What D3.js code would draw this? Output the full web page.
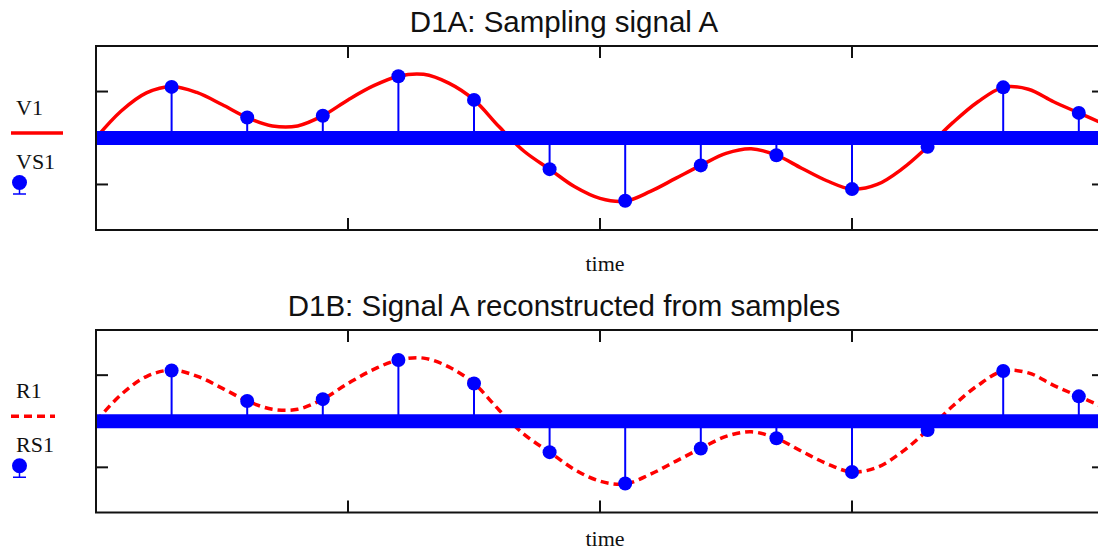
<!DOCTYPE html>
<html>
<head>
<meta charset="utf-8">
<script src="https://cdn.jsdelivr.net/npm/d3@7"></script>
<style>
	body { margin: 0; background: white; }
	svg { display: block; }
</style>
</head>
<body>
<div id="chart"></div>
<script>

// sample instants and sampled values (VS1 / RS1)
let sampleT = [0.3, 0.6, 0.9, 1.2, 1.5, 1.8, 2.1, 2.4, 2.7, 3.0, 3.3, 3.6, 3.9];
let sampleV = [1.10, 0.44, 0.48, 1.33, 0.82, -0.67, -1.35, -0.59, -0.37, -1.10, -0.19, 1.09, 0.54];

// continuous signal V1, every 0.1
let curveT = [0, 0.1, 0.2, 0.3, 0.4, 0.5, 0.6, 0.7, 0.8, 0.9,
			  1.0, 1.1, 1.2, 1.3, 1.4, 1.5, 1.6, 1.7, 1.8, 1.9,
			  2.0, 2.1, 2.2, 2.3, 2.4, 2.5, 2.6, 2.7, 2.8, 2.9,
			  3.0, 3.1, 3.2, 3.3, 3.4, 3.5, 3.6, 3.7, 3.8, 3.9, 4.0];
let curveV1 = [0, 0.58, 0.97, 1.11, 0.98, 0.72, 0.44, 0.26, 0.26, 0.48,
			   0.82, 1.12, 1.33, 1.37, 1.18, 0.82, 0.24, -0.29, -0.67, -1.05,
			   -1.30, -1.36, -1.15, -0.87, -0.59, -0.33, -0.23, -0.37, -0.65, -0.92,
			   -1.10, -1.00, -0.66, -0.19, 0.33, 0.78, 1.09, 1.05, 0.78, 0.54, 0.30];
// reconstruction R1 follows the same trace
let curveR1 = curveV1.slice();

let xTicks = [1, 2, 3];
let yTicks = [-1, 1];

let width = 1098, height = 552;

let panels = [
	{ title: "D1A: Sampling signal A", top: 46, bottom: 230, line: "V1", dots: "VS1", curve: curveV1, dash: null, labelY: 271 },
	{ title: "D1B: Signal A reconstructed from samples", top: 330, bottom: 512.5, line: "R1", dots: "RS1", curve: curveR1, dash: "8,5", labelY: 546 }
];

let svg = d3.select("#chart").append("svg")
			.attr("width", width)
			.attr("height", height);

let x = d3.scaleLinear().domain([0, 4]).range([96, 1104]);

panels.forEach(function(p, i) {
	let y = d3.scaleLinear().domain([-1.98, 1.98]).range([p.bottom, p.top]);
	let g = svg.append("g");

	g.append("clipPath").attr("id", "clip" + i)
		.append("rect")
		.attr("x", x(0)).attr("y", p.top)
		.attr("width", x(4) - x(0)).attr("height", p.bottom - p.top);

	// title
	g.append("text")
		.attr("x", 564).attr("y", p.top - 14)
		.attr("text-anchor", "middle")
		.attr("font-family", "Liberation Sans, Arial, sans-serif")
		.attr("font-size", 29.5)
		.attr("fill", "#111")
		.text(p.title);

	// signal
	let line = d3.line()
				.x((d, k) => x(curveT[k]))
				.y(d => y(d))
				.curve(d3.curveCatmullRom.alpha(0.5));

	g.append("path")
		.datum(p.curve)
		.attr("clip-path", "url(#clip" + i + ")")
		.attr("d", line)
		.attr("fill", "none")
		.attr("stroke", "#ff0000")
		.attr("stroke-width", 3.5)
		.attr("stroke-dasharray", p.dash);

	// thick zero line of the stem trace
	g.append("line")
		.attr("x1", x(0)).attr("x2", x(4))
		.attr("y1", y(0)).attr("y2", y(0))
		.attr("stroke", "#0000ff")
		.attr("stroke-width", 14);

	// stems + dots
	g.selectAll(".stem").data(sampleV).enter().append("line")
		.attr("x1", (d, k) => x(sampleT[k])).attr("x2", (d, k) => x(sampleT[k]))
		.attr("y1", y(0)).attr("y2", d => y(d))
		.attr("stroke", "#0000ff")
		.attr("stroke-width", 2);

	g.selectAll(".dot").data(sampleV).enter().append("circle")
		.attr("cx", (d, k) => x(sampleT[k]))
		.attr("cy", d => y(d))
		.attr("r", 7)
		.attr("fill", "#0000ff");

	// frame and inward ticks
	g.append("rect")
		.attr("x", x(0)).attr("y", p.top)
		.attr("width", x(4) - x(0)).attr("height", p.bottom - p.top)
		.attr("fill", "none")
		.attr("stroke", "#111")
		.attr("stroke-width", 2);

	let tl = 12;
	xTicks.forEach(function(t) {
		g.append("line").attr("x1", x(t)).attr("x2", x(t))
			.attr("y1", p.top).attr("y2", p.top + tl)
			.attr("stroke", "#111").attr("stroke-width", 2);
		g.append("line").attr("x1", x(t)).attr("x2", x(t))
			.attr("y1", p.bottom).attr("y2", p.bottom - tl)
			.attr("stroke", "#111").attr("stroke-width", 2);
	});
	yTicks.forEach(function(v) {
		g.append("line").attr("x1", x(0)).attr("x2", x(0) + tl)
			.attr("y1", y(v)).attr("y2", y(v))
			.attr("stroke", "#111").attr("stroke-width", 2);
		g.append("line").attr("x1", x(4)).attr("x2", x(4) - tl)
			.attr("y1", y(v)).attr("y2", y(v))
			.attr("stroke", "#111").attr("stroke-width", 2);
	});

	// x axis label
	g.append("text")
		.attr("x", 605).attr("y", p.labelY)
		.attr("text-anchor", "middle")
		.attr("font-family", "Liberation Serif, Times New Roman, serif")
		.attr("font-size", 22)
		.attr("fill", "#111")
		.text("time");

	// legend
	let ly = y(0);
	g.append("text")
		.attr("x", 16).attr("y", ly - 23)
		.attr("font-family", "Liberation Serif, Times New Roman, serif")
		.attr("font-size", 22)
		.attr("fill", "#111")
		.text(p.line);
	g.append("line")
		.attr("x1", 11).attr("x2", p.dash ? 55 : 63)
		.attr("y1", ly - 5).attr("y2", ly - 5)
		.attr("stroke", "#ff0000")
		.attr("stroke-width", 3.5)
		.attr("stroke-dasharray", p.dash);
	g.append("text")
		.attr("x", 16).attr("y", ly + 31)
		.attr("font-family", "Liberation Serif, Times New Roman, serif")
		.attr("font-size", 22)
		.attr("fill", "#111")
		.text(p.dots);
	g.append("circle")
		.attr("cx", 19.5).attr("cy", ly + 44.5)
		.attr("r", 7.5)
		.attr("fill", "#0000ff");
	g.append("line")
		.attr("x1", 19.5).attr("x2", 19.5)
		.attr("y1", ly + 50).attr("y2", ly + 56)
		.attr("stroke", "#0000ff").attr("stroke-width", 1.5);
	g.append("line")
		.attr("x1", 13).attr("x2", 26)
		.attr("y1", ly + 56).attr("y2", ly + 56)
		.attr("stroke", "#0000ff").attr("stroke-width", 1.5);
});

</script>
</body>
</html>
